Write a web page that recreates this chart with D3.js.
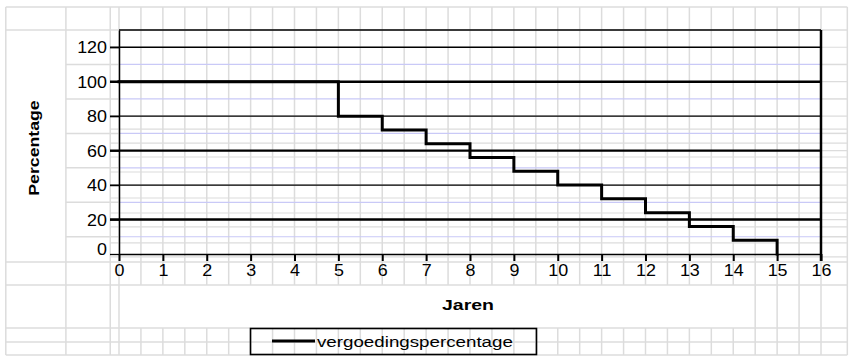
<!DOCTYPE html>
<html>
<head>
<meta charset="utf-8">
<script src="https://cdn.jsdelivr.net/npm/d3@7"></script>
<style>
  html, body { margin: 0; padding: 0; background: #fff; }
  svg { display: block; font-family: "Liberation Sans", Arial, sans-serif; }
</style>
</head>
<body>
<svg id="chart" width="860" height="363"></svg>
<script>
// ---- data ----
const years = [0, 5, 6, 7, 8, 9, 10, 11, 12, 13, 14, 15];
const percentages = [100, 80, 72, 64, 56, 48, 40, 32, 24, 16, 8, 0];
const xTicks = [0, 1, 2, 3, 4, 5, 6, 7, 8, 9, 10, 11, 12, 13, 14, 15, 16];
const yTicks = [0, 20, 40, 60, 80, 100, 120];
const seriesName = "vergoedingspercentage";
const xTitle = "Jaren";
const yTitle = "Percentage";

// ---- layout ----
const W = 860, H = 363;
const plot = { left: 119, right: 821, top: 30, bottom: 254 };
const x = d3.scaleLinear().domain([0, 16]).range([plot.left, plot.right]);
const y = d3.scaleLinear().domain([0, 130]).range([plot.bottom, plot.top]);

const svg = d3.select("#chart");
svg.append("rect").attr("width", W).attr("height", H).attr("fill", "#fff");

// ---- spreadsheet background grid (in chart units) ----
const GREY = "#dcdcdc", LAV = "#c9c9f7";
const sheetTop = 143.3, sheetBottom = -58.6, sheetLeft = -2.58, sheetRight = 16.6;
const g0 = svg.append("g").attr("class", "sheet");
// columns
const fullCols = [-2.58, -1.21, -0.2, 0];
fullCols.forEach(c => g0.append("line")
  .attr("x1", x(c)).attr("x2", x(c)).attr("y1", y(sheetTop)).attr("y2", y(sheetBottom))
  .attr("stroke", GREY).attr("stroke-width", 1.5));
const halfCols = d3.range(1, 33).map(i => i / 2).concat([16.6]);
halfCols.forEach(c => {
  if (c >= 14.5) {
    g0.append("line").attr("x1", x(c)).attr("x2", x(c)).attr("y1", y(sheetTop)).attr("y2", y(sheetBottom))
      .attr("stroke", GREY).attr("stroke-width", 1.5);
  } else {
    g0.append("line").attr("x1", x(c)).attr("x2", x(c)).attr("y1", y(sheetTop)).attr("y2", y(-18))
      .attr("stroke", GREY).attr("stroke-width", 1.5);
    g0.append("line").attr("x1", x(c)).attr("x2", x(c)).attr("y1", y(-42.9)).attr("y2", y(sheetBottom))
      .attr("stroke", GREY).attr("stroke-width", 1.5);
  }
});
// full-width rows
[143.3, 130, -4.64, -18, -42.9, -51.1, -58.6].forEach(r => g0.append("line")
  .attr("x1", x(sheetLeft)).attr("x2", x(sheetRight)).attr("y1", y(r)).attr("y2", y(r))
  .attr("stroke", GREY).attr("stroke-width", 1.5));
// rows from second column
[10, 30, 50, 70, 90, 110].forEach(r => {
  g0.append("line").attr("x1", x(-1.21)).attr("x2", x(0)).attr("y1", y(r)).attr("y2", y(r))
    .attr("stroke", GREY).attr("stroke-width", 1.5);
  g0.append("line").attr("x1", x(0)).attr("x2", x(16)).attr("y1", y(r)).attr("y2", y(r))
    .attr("stroke", LAV).attr("stroke-width", 1.2);
  g0.append("line").attr("x1", x(16)).attr("x2", x(sheetRight)).attr("y1", y(r)).attr("y2", y(r))
    .attr("stroke", GREY).attr("stroke-width", 1.5);
});
// rows from third column
[120, 100, 80, 72.5, 64.4, 60, 56.3, 47.6, 40, 32.5, 23.8, 20, 15.7, 6.4, -1.7].forEach(r => g0.append("line")
  .attr("x1", x(-0.2)).attr("x2", x(sheetRight)).attr("y1", y(r)).attr("y2", y(r))
  .attr("stroke", GREY).attr("stroke-width", 1.2));

// ---- gridlines ----
const gridG = svg.append("g");
yTicks.filter(v => v > 0).forEach(v => gridG.append("line")
  .attr("x1", plot.left - 9).attr("x2", plot.right)
  .attr("y1", y(v)).attr("y2", y(v))
  .attr("stroke", "#000")
  .attr("stroke-width", (v === 20 || v === 60 || v === 100) ? 2.4 : 1.3));
// plot frame top & right
svg.append("line").attr("x1", plot.left).attr("x2", plot.right).attr("y1", y(130)).attr("y2", y(130))
  .attr("stroke", "#000").attr("stroke-width", 1.3);
svg.append("line").attr("x1", plot.right).attr("x2", plot.right).attr("y1", y(130)).attr("y2", y(0) + 7)
  .attr("stroke", "#000").attr("stroke-width", 2.5);

// ---- axes ----
const yAxis = svg.append("g").attr("transform", `translate(${plot.left},0)`)
  .call(d3.axisLeft(y).tickValues(yTicks).tickSizeInner(9).tickSizeOuter(0));
yAxis.select(".domain").attr("stroke", "#000").attr("stroke-width", 1.5);
yAxis.selectAll(".tick line").attr("stroke", "#000").attr("stroke-width", 1.3);
yAxis.selectAll(".tick text")
  .attr("x", null).attr("dy", "0.36em")
  .attr("transform", d => `translate(-12,${d === 0 ? -5 : 0}) scale(1.12,1)`)
  .attr("font-size", 16).attr("fill", "#000")
  .attr("font-family", "'Liberation Sans', Arial, sans-serif");

const xAxis = svg.append("g").attr("transform", `translate(0,${plot.bottom})`)
  .call(d3.axisBottom(x).tickValues(xTicks).tickSizeInner(7).tickSizeOuter(0).tickPadding(4));
xAxis.select(".domain").attr("stroke", "#000").attr("stroke-width", 1.5);
xAxis.selectAll(".tick line").attr("stroke", "#000").attr("stroke-width", 2);
xAxis.selectAll(".tick text")
  .each(function() {
    const t = d3.select(this);
    const yy = +t.attr("y");
    t.attr("y", null).attr("transform", `translate(0,${yy}) scale(1.12,1)`);
  })
  .attr("font-size", 16).attr("fill", "#000")
  .attr("font-family", "'Liberation Sans', Arial, sans-serif");

// ---- series ----
const line = d3.line().x((d, i) => x(years[i])).y(d => y(d)).curve(d3.curveStepAfter);
svg.append("path").datum(percentages)
  .attr("d", line).attr("fill", "none").attr("stroke", "#000")
  .attr("stroke-width", 3).attr("stroke-linejoin", "miter").attr("stroke-linecap", "square");

// ---- titles ----
svg.append("text").text(yTitle)
  .attr("transform", `translate(39,${(y(0) + y(130)) / 2 + 6}) rotate(-90) scale(1.18,1)`)
  .attr("text-anchor", "middle").attr("font-size", 15).attr("font-weight", "bold");
svg.append("text").text(xTitle)
  .attr("transform", `translate(${(x(0) + x(16)) / 2 - 2},310) scale(1.3,1)`)
  .attr("text-anchor", "middle").attr("font-size", 15).attr("font-weight", "bold");

// ---- legend ----
const lg = svg.append("g");
lg.append("rect").attr("x", 250.5).attr("y", 328.5).attr("width", 286).attr("height", 26)
  .attr("fill", "none").attr("stroke", "#000").attr("stroke-width", 1.6);
lg.append("line").attr("x1", 272).attr("x2", 315).attr("y1", 341).attr("y2", 341)
  .attr("stroke", "#000").attr("stroke-width", 3);
lg.append("text").text(seriesName)
  .attr("transform", "translate(317,347) scale(1.25,1)")
  .attr("font-size", 15);
</script>
</body>
</html>
